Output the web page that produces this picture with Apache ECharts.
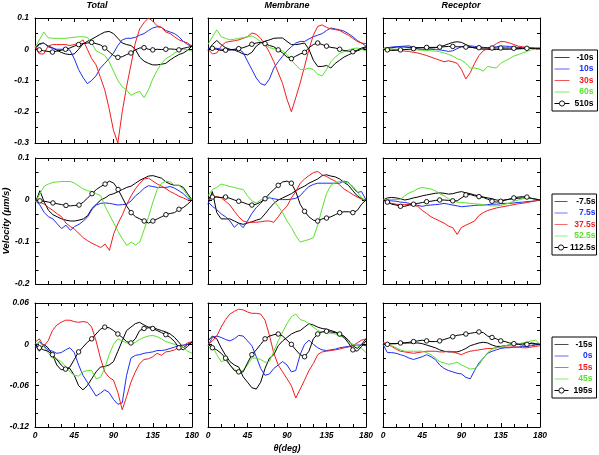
<!DOCTYPE html>
<html><head><meta charset="utf-8">
<script src="https://cdn.jsdelivr.net/npm/echarts@6/dist/echarts.min.js"></script>
<style>html,body{margin:0;padding:0;background:#fff}#c{width:599px;height:455px}</style>
</head><body><div id="c"></div>
<script>
// ---- categories / ticks ----
const theta = [0,5,10,15,20,25,30,35,40,45,50,55,60,65,70,75,80,85,90,95,100,105,110,115,120,125,130,135,140,145,150,155,160,165,170,175,180];
const markerTheta = [5,20,35,50,65,80,95,110,125,135,150,165];
const panelTitles = ['Total','Membrane','Receptor'];
const legendRow1 = ['-10s','10s','30s','60s','510s'];
const legendRow2 = ['-7.5s','7.5s','37.5s','52.5s','112.5s'];
const legendRow3 = ['-15s','0s','15s','45s','195s'];
const yAxisRow1 = [-0.3, 0.1, 0.1];
const yAxisRow2 = [-0.2, 0.1, 0.1];
const yAxisRow3 = [-0.12, 0.06, 0.06];

// ---- row 1 ----
const total1_k = [0.005,0.018,0.02,0.01,0.005,-0.003,-0.01,-0.015,-0.017,-0.015,0.0,0.017,0.025,0.032,0.04,0.048,0.055,0.057,0.05,0.035,0.02,0.015,0.012,0.0,-0.025,-0.038,-0.045,-0.05,-0.05,-0.048,-0.045,-0.034,-0.025,-0.017,-0.012,-0.003,0.01];
const total1_b = [0,0.015,0.02,0.008,0.003,0,0,0,-0.003,-0.03,-0.065,-0.09,-0.11,-0.1,-0.085,-0.06,-0.045,-0.03,-0.012,0.012,0.03,0.035,0.035,0.038,0.045,0.05,0.06,0.068,0.072,0.07,0.06,0.055,0.05,0.04,0.025,0.015,0.01];
const total1_r = [0.01,-0.015,-0.015,0.01,0.015,0.015,0.015,0.015,0.012,0.015,0.02,0.03,0.0,-0.03,-0.05,-0.09,-0.13,-0.19,-0.26,-0.3,-0.2,-0.12,-0.05,0.02,0.065,0.085,0.1,0.09,0.075,0.07,0.055,0.05,0.04,0.03,0.025,0.02,0.01];
const total1_g = [0.005,0.03,0.055,0.037,0.035,0.035,0.035,0.035,0.037,0.038,0.04,0.04,0.038,0.02,-0.005,-0.012,-0.02,-0.04,-0.07,-0.1,-0.12,-0.13,-0.148,-0.14,-0.135,-0.155,-0.13,-0.095,-0.068,-0.045,-0.03,-0.022,-0.012,-0.005,0.0,-0.002,-0.006];
const total1_o = [0,-0.002,-0.005,-0.007,-0.009,-0.006,-0.003,0,0.004,0.01,0.015,0.018,0.02,0.022,0.018,0.014,0.004,-0.008,-0.02,-0.026,-0.024,-0.017,-0.012,-0.002,0.004,0.005,0,-0.002,0,-0.001,0,0.001,0,-0.002,0.003,0.006,0.01];
const mem1_k = [-0.005,0.015,0.028,0.015,0.005,0,-0.003,-0.008,-0.015,-0.018,-0.01,0.01,0.02,0.026,0.03,0.035,0.036,0.036,0.025,0.015,0.015,0.017,0.02,0.0,-0.035,-0.055,-0.055,-0.052,-0.06,-0.045,-0.035,-0.025,-0.018,-0.012,-0.005,0,0.005];
const mem1_b = [0.003,0.004,0.003,0,-0.001,-0.002,-0.002,0,-0.01,-0.038,-0.065,-0.092,-0.11,-0.115,-0.095,-0.06,-0.04,-0.022,-0.005,0.008,0.02,0.025,0.025,0.033,0.04,0.045,0.05,0.06,0.068,0.065,0.062,0.058,0.05,0.04,0.028,0.02,0.01];
const mem1_r = [0,-0.015,-0.012,0.01,0.022,0.025,0.027,0.03,0.035,0.04,0.052,0.048,0.035,0.015,-0.01,-0.04,-0.075,-0.11,-0.16,-0.2,-0.155,-0.108,-0.055,0,0.045,0.073,0.078,0.07,0.065,0.063,0.06,0.052,0.045,0.035,0.025,0.02,0.018];
const mem1_g = [0.015,0.04,0.062,0.04,0.035,0.03,0.032,0.035,0.037,0.04,0.043,0.035,0.024,0.015,0.005,0.002,0,-0.005,-0.017,-0.035,-0.05,-0.065,-0.065,-0.06,-0.065,-0.08,-0.085,-0.065,-0.04,-0.025,-0.013,-0.008,-0.002,0.002,0.004,0,-0.006];
const mem1_o = [0,0.003,0,-0.004,-0.003,-0.002,0,0.002,0.005,0.01,0.016,0.02,0.022,0.018,0.012,0.008,-0.002,-0.012,-0.025,-0.03,-0.022,-0.015,-0.01,0.005,0.015,0.02,0.015,0.01,0.006,0.004,0,-0.004,-0.006,-0.008,-0.003,0.004,0.008];
const rec1_k = [0.002,0.003,0.005,0.007,0.008,0.007,0.006,0.006,0.005,0.005,0.004,0.004,0.005,0.008,0.012,0.017,0.022,0.024,0.022,0.015,0.008,0.004,0.002,0,0,-0.001,-0.001,0,0,0,0.001,0.001,0.002,0.002,0.003,0.003,0.003];
const rec1_b = [0.003,0.005,0.007,0.008,0.009,0.01,0.011,0.006,0,-0.001,0,0,-0.001,-0.002,-0.004,-0.007,-0.005,0.002,0.008,0.01,0.011,0.009,0.007,0.006,0.005,0.006,0.008,0.01,0.01,0.009,0.007,0.006,0.005,0.004,0.004,0.003,0.003];
const rec1_r = [0.002,0.003,0,-0.002,-0.004,-0.006,-0.007,-0.01,-0.012,-0.016,-0.02,-0.025,-0.03,-0.035,-0.04,-0.037,-0.04,-0.045,-0.065,-0.095,-0.075,-0.045,-0.02,-0.005,0.002,0.008,0.018,0.025,0.024,0.02,0.015,0.01,0.008,0.005,0.004,0.002,0];
const rec1_g = [0.002,0.002,0.001,0,0,0,-0.001,-0.002,-0.002,-0.003,-0.004,-0.005,-0.006,-0.008,-0.012,-0.016,-0.022,-0.03,-0.035,-0.045,-0.06,-0.06,-0.063,-0.07,-0.055,-0.058,-0.06,-0.045,-0.037,-0.03,-0.022,-0.017,-0.012,-0.007,-0.002,0,0];
const rec1_o = [0,-0.002,-0.004,-0.003,-0.002,-0.001,0,0.002,0.004,0.005,0.006,0.006,0.006,0.007,0.008,0.009,0.009,0.008,0.008,0.007,0.006,0.005,0.005,0.004,0.004,0.004,0.004,0.004,0.004,0.004,0.003,0.003,0.003,0.003,0.003,0.003,0.003];

// ---- row 2 ----
const total2_k = [-0.005,0.022,-0.005,-0.025,-0.035,-0.04,-0.045,-0.048,-0.05,-0.05,-0.048,-0.045,-0.037,-0.02,-0.01,0,0.005,0.012,0.015,0.02,0.025,0.03,0.033,0.04,0.047,0.052,0.057,0.058,0.055,0.052,0.043,0.038,0.035,0.035,0.03,0.015,0];
const total2_b = [-0.002,-0.012,-0.03,-0.04,-0.045,-0.057,-0.068,-0.06,-0.072,-0.063,-0.058,-0.05,-0.04,-0.022,-0.012,-0.008,-0.007,-0.008,-0.01,-0.012,-0.011,-0.01,-0.002,0.01,0.018,0.028,0.034,0.032,0.03,0.03,0.03,0.032,0.028,0.022,0.015,0.005,0];
const total2_r = [0,-0.005,-0.01,-0.018,-0.025,-0.033,-0.04,-0.055,-0.063,-0.07,-0.08,-0.09,-0.097,-0.103,-0.108,-0.113,-0.105,-0.12,-0.08,-0.055,-0.035,-0.01,0.01,0.027,0.04,0.05,0.052,0.045,0.038,0.033,0.027,0.02,0.015,0.009,0.005,0,0];
const total2_g = [-0.005,0.015,0.033,0.038,0.042,0.043,0.044,0.044,0.044,0.04,0.033,0.026,0.022,0.02,0.015,0.01,-0.015,-0.035,-0.055,-0.075,-0.093,-0.108,-0.1,-0.107,-0.1,-0.07,-0.04,-0.005,0.025,0.04,0.045,0.043,0.035,0.035,0.025,0.01,0];
const total2_o = [0,-0.002,-0.003,-0.005,-0.007,-0.009,-0.011,-0.013,-0.014,-0.013,-0.012,-0.005,0.005,0.015,0.025,0.032,0.038,0.045,0.04,0.025,0.005,-0.015,-0.03,-0.04,-0.045,-0.05,-0.055,-0.05,-0.045,-0.04,-0.035,-0.032,-0.03,-0.022,-0.018,-0.01,0];
const mem2_k = [-0.01,0.02,-0.03,-0.045,-0.045,-0.045,-0.05,-0.055,-0.058,-0.055,-0.052,-0.048,-0.045,-0.033,-0.02,-0.008,0,0.005,0.01,0.015,0.022,0.028,0.033,0.04,0.045,0.05,0.058,0.06,0.057,0.055,0.05,0.042,0.035,0.022,0.01,0.003,0];
const mem2_b = [-0.005,-0.015,-0.023,-0.033,-0.04,-0.05,-0.065,-0.055,-0.066,-0.05,-0.032,-0.018,-0.008,0.003,0.005,0.003,0.001,0.001,0.001,0.002,0.004,0.01,0.022,0.032,0.037,0.04,0.04,0.04,0.04,0.04,0.04,0.045,0.042,0.03,0.018,0.02,0];
const mem2_r = [0,0.005,0.008,0.005,-0.003,-0.012,-0.027,-0.04,-0.05,-0.053,-0.053,-0.053,-0.052,-0.05,-0.05,-0.053,-0.04,-0.025,-0.015,0.005,0.02,0.04,0.05,0.058,0.065,0.068,0.06,0.056,0.05,0.045,0.036,0.026,0.02,0.013,0.007,0.002,0];
const mem2_g = [0.01,0.025,0.03,0.038,0.035,0.032,0.03,0.027,0.025,0.01,-0.002,-0.007,0,0.004,0.007,-0.002,-0.015,-0.03,-0.05,-0.065,-0.085,-0.1,-0.097,-0.094,-0.09,-0.06,-0.02,0.015,0.035,0.042,0.044,0.043,0.04,0.033,0.02,0.005,-0.003];
const mem2_o = [0.005,0.007,0.007,0.006,0.007,0.004,0,-0.003,-0.006,-0.01,-0.012,-0.01,-0.005,0.003,0.015,0.025,0.035,0.043,0.045,0.04,0.02,-0.01,-0.027,-0.04,-0.048,-0.05,-0.045,-0.043,-0.04,-0.035,-0.03,-0.028,-0.028,-0.03,-0.025,-0.01,0];
const rec2_k = [0,0.005,0.006,0.005,0.003,0,0.002,0.005,0.007,0.01,0.012,0.014,0.016,0.017,0.016,0.014,0.015,0.018,0.02,0.017,0.015,0.012,0.01,0.007,0.005,0.003,0,-0.001,0,0.002,0.003,0.004,0.005,0.005,0.004,0.002,0];
const rec2_b = [0,-0.001,-0.002,-0.003,-0.005,-0.006,-0.008,-0.01,-0.013,-0.015,-0.013,-0.012,-0.011,-0.01,-0.008,-0.01,-0.012,-0.014,-0.016,-0.015,-0.014,-0.013,-0.012,-0.012,-0.011,-0.01,-0.01,-0.009,-0.008,-0.008,-0.007,-0.006,-0.005,-0.004,-0.003,-0.002,0];
const rec2_r = [0,-0.004,-0.008,-0.01,-0.011,-0.011,-0.011,-0.013,-0.015,-0.025,-0.032,-0.04,-0.045,-0.05,-0.055,-0.062,-0.066,-0.082,-0.065,-0.06,-0.055,-0.05,-0.037,-0.03,-0.025,-0.022,-0.019,-0.017,-0.015,-0.013,-0.011,-0.009,-0.008,-0.006,-0.004,-0.002,0];
const rec2_g = [0,0.001,0.001,0.001,0.002,0.01,0.017,0.021,0.027,0.03,0.028,0.026,0.022,0.015,0.01,0.003,-0.002,-0.005,-0.006,-0.007,-0.008,-0.009,-0.01,-0.011,-0.013,-0.014,-0.014,-0.013,-0.01,-0.007,-0.003,0,0.003,0.004,0.004,0.002,0];
const rec2_o = [0,-0.005,-0.01,-0.012,-0.015,-0.015,-0.012,-0.01,-0.008,-0.006,-0.004,-0.003,-0.001,0,0,-0.001,-0.002,-0.002,0.005,0.012,0.013,0.01,0.008,0.006,0.002,-0.003,-0.005,-0.003,0,0.002,0.005,0.007,0.008,0.007,0.004,0.002,0];

// ---- row 3 ----
const total3_k = [0,-0.01,0,-0.005,-0.015,-0.03,-0.037,-0.036,-0.035,-0.045,-0.06,-0.066,-0.06,-0.05,-0.04,-0.033,-0.032,-0.03,-0.025,-0.01,0.005,0.02,0.025,0.03,0.032,0.028,0.025,0.025,0.022,0.02,0.018,0.015,0.01,0.003,-0.005,0,0.003];
const total3_b = [-0.005,0.004,-0.002,-0.008,-0.01,-0.013,-0.012,-0.008,-0.005,-0.012,-0.03,-0.045,-0.055,-0.065,-0.075,-0.071,-0.066,-0.07,-0.08,-0.087,-0.085,-0.045,-0.02,-0.016,-0.015,-0.013,-0.012,-0.011,-0.009,-0.009,-0.008,-0.006,-0.004,-0.002,-0.001,0,0.003];
const total3_r = [0.003,0.008,-0.003,0.005,0.02,0.028,0.032,0.035,0.035,0.033,0.032,0.033,0.032,0.025,0.005,-0.02,-0.04,-0.048,-0.052,-0.07,-0.095,-0.076,-0.055,-0.04,-0.028,-0.022,-0.021,-0.018,-0.013,-0.016,-0.011,-0.01,-0.008,-0.004,-0.002,0.002,0.004];
const total3_g = [0,0.003,-0.003,-0.012,-0.02,-0.022,-0.025,-0.032,-0.04,-0.045,-0.046,-0.04,-0.038,-0.038,-0.05,-0.048,-0.035,-0.015,0,0.008,0.005,0.002,0,0.003,0.007,0.01,0.012,0.013,0.011,0.008,0.004,0.002,0,-0.002,-0.004,-0.01,-0.013];
const total3_o = [0,-0.005,-0.008,-0.01,-0.015,-0.022,-0.03,-0.036,-0.033,-0.022,-0.011,-0.004,0.003,0.008,0.015,0.022,0.025,0.024,0.02,0.015,0.01,0.004,0.002,0.008,0.02,0.023,0.024,0.023,0.02,0.017,0.014,0.01,0.004,-0.005,-0.008,-0.003,0.003];
const mem3_k = [0.005,0.012,0.008,-0.005,-0.016,-0.025,-0.03,-0.033,-0.047,-0.055,-0.063,-0.065,-0.055,-0.035,-0.02,-0.015,-0.002,0.005,0.01,0.015,0.018,0.02,0.025,0.03,0.028,0.025,0.023,0.022,0.02,0.018,0.015,0.012,0.006,-0.002,-0.006,0,0.008];
const mem3_b = [-0.002,0.01,0.012,0.01,0.007,0.005,0.008,0.013,0.012,0.005,-0.002,-0.018,-0.035,-0.045,-0.043,-0.035,-0.03,-0.025,-0.03,-0.04,-0.038,-0.015,0,0.006,0,-0.005,-0.008,-0.009,-0.008,-0.007,-0.005,-0.004,-0.003,-0.002,-0.001,-0.001,-0.002];
const mem3_r = [0,0.005,0.012,0.025,0.036,0.044,0.048,0.051,0.05,0.047,0.045,0.045,0.044,0.035,0.013,-0.013,-0.03,-0.04,-0.05,-0.06,-0.078,-0.065,-0.052,-0.038,-0.028,-0.015,-0.011,-0.01,-0.009,-0.008,-0.007,-0.005,-0.004,-0.002,0.002,0.006,0.008];
const mem3_g = [-0.002,-0.002,-0.015,-0.025,-0.023,-0.03,-0.036,-0.04,-0.038,-0.03,-0.02,-0.02,-0.022,-0.026,-0.025,-0.01,0.005,0.018,0.03,0.04,0.044,0.036,0.034,0.03,0.025,0.02,0.018,0.017,0.016,0.015,0.012,0.01,0.004,0,-0.002,-0.006,-0.012];
const mem3_o = [0,-0.005,-0.008,-0.013,-0.02,-0.03,-0.038,-0.04,-0.04,-0.027,-0.015,-0.008,0,0.008,0.012,0.014,0.015,0.012,0.006,0,-0.008,-0.015,-0.018,-0.01,0.008,0.015,0.018,0.019,0.018,0.017,0.015,0.01,0.002,-0.008,-0.01,-0.003,0.005];
const rec3_k = [0,0.001,0.001,0.001,0.002,0.002,0.002,0.002,0.002,0.001,-0.001,-0.003,-0.005,-0.008,-0.01,-0.011,-0.011,-0.011,-0.009,-0.006,-0.002,0,0.002,0.003,0.002,-0.001,-0.003,-0.003,-0.002,-0.001,0,0.001,0.001,0.001,0.001,0,0];
const rec3_b = [0,-0.012,-0.012,-0.013,-0.015,-0.017,-0.02,-0.022,-0.02,-0.018,-0.015,-0.018,-0.022,-0.03,-0.035,-0.038,-0.04,-0.042,-0.043,-0.048,-0.05,-0.038,-0.027,-0.02,-0.013,-0.01,-0.008,-0.006,-0.005,-0.005,-0.004,-0.004,-0.003,-0.003,-0.002,-0.001,0];
const rec3_r = [0.003,0,-0.003,-0.007,-0.01,-0.011,-0.012,-0.013,-0.012,-0.011,-0.01,-0.01,-0.01,-0.011,-0.011,-0.01,-0.011,-0.013,-0.015,-0.012,-0.01,-0.009,-0.008,-0.007,-0.006,-0.006,-0.005,-0.004,-0.004,-0.004,-0.004,-0.004,-0.005,-0.005,-0.004,-0.003,-0.002];
const rec3_g = [0,0,-0.002,-0.005,-0.008,-0.01,-0.01,-0.01,-0.01,-0.01,-0.012,-0.015,-0.02,-0.025,-0.027,-0.029,-0.028,-0.026,-0.03,-0.033,-0.036,-0.035,-0.03,-0.02,-0.012,-0.007,-0.005,-0.004,-0.002,-0.001,0,0.001,0.002,0.003,0.005,0.006,0];
const rec3_o = [0,0,0.001,0.001,0.002,0.002,0.003,0.004,0.005,0.006,0.005,0.004,0.004,0.005,0.007,0.009,0.011,0.013,0.014,0.015,0.016,0.017,0.018,0.017,0.012,0.01,0.008,0.005,0.004,0.002,0.001,0,-0.001,0,0.002,0.001,0];

// ---- assembly ----
const colors = ['#000000','#1c2ef2','#f21c1c','#58e22c','#000000'];
const rowDefs = [
  {names: legendRow1, y: yAxisRow1, minor: 2, panels: [[total1_k,total1_b,total1_r,total1_g,total1_o],[mem1_k,mem1_b,mem1_r,mem1_g,mem1_o],[rec1_k,rec1_b,rec1_r,rec1_g,rec1_o]]},
  {names: legendRow2, y: yAxisRow2, minor: 3, panels: [[total2_k,total2_b,total2_r,total2_g,total2_o],[mem2_k,mem2_b,mem2_r,mem2_g,mem2_o],[rec2_k,rec2_b,rec2_r,rec2_g,rec2_o]]},
  {names: legendRow3, y: yAxisRow3, minor: 3, panels: [[total3_k,total3_b,total3_r,total3_g,total3_o],[mem3_k,mem3_b,mem3_r,mem3_g,mem3_o],[rec3_k,rec3_b,rec3_r,rec3_g,rec3_o]]}
];

const FONT = 'Liberation Sans, Arial, Helvetica, sans-serif';
const colLeft = [35, 208, 383];
const colWidth = [157, 158, 157];
const rowTop = [18, 158, 303];
const rowHeight = [125, 126, 124];
const legendTop = [50, 194, 337];
const legendIconW = [15, 13, 14];
const legendTextW = [19, 23, 19];
const legendPadR = [4, 1, 4];
const titleX = [97, 287, 461];
const LINE_ICON = 'path://M0,0H40V2H0Z';

const grids = [], xAxes = [], yAxes = [], series = [], legends = [];
const lblStyle = {fontSize: 8.5, fontWeight: 'bold', fontStyle: 'italic', fontFamily: FONT, color: '#000'};
const axisLine = {show: true, onZero: false, lineStyle: {color: '#000', width: 1}};
const tick = {show: true, inside: true, length: 4, lineStyle: {color: '#000', width: 1}};

rowDefs.forEach((row, r) => {
  row.panels.forEach((panel, c) => {
    const g = r * 3 + c;
    grids.push({left: colLeft[c], top: rowTop[r], width: colWidth[c], height: rowHeight[r], containLabel: false});
    const xBase = {type: 'value', gridIndex: g, min: 0, max: 180, interval: 45,
      axisLine, axisTick: tick, splitLine: {show: false},
      minorTick: {show: true, splitNumber: 3, length: 3, lineStyle: {color: '#000', width: 1}}, minorSplitLine: {show: false}};
    const xb = Object.assign({}, xBase, {position: 'bottom',
      axisLabel: Object.assign({show: r === 2, margin: 4}, lblStyle)});
    if (r === 2 && c === 1) {
      xb.name = 'θ(deg)'; xb.nameLocation = 'middle'; xb.nameGap = 17;
      xb.nameTextStyle = {fontSize: 9, fontWeight: 'bold', fontStyle: 'italic', fontFamily: FONT, color: '#000'};
    }
    xAxes[g] = xb;
    xAxes[9 + g] = Object.assign({}, xBase, {position: 'top', axisLabel: {show: false}});
    const yBase = {type: 'value', gridIndex: g, min: row.y[0], max: row.y[1], interval: row.y[2],
      axisLine, axisTick: tick, splitLine: {show: false},
      minorTick: {show: true, splitNumber: row.minor, length: 3, lineStyle: {color: '#000', width: 1}}, minorSplitLine: {show: false}};
    const yl = Object.assign({}, yBase, {position: 'left',
      axisLabel: Object.assign({show: c === 0, margin: 6}, lblStyle)});
    if (r === 1 && c === 0) {
      yl.name = 'Velocity (µm/s)'; yl.nameLocation = 'middle'; yl.nameGap = 24; yl.nameRotate = 90;
      yl.nameTextStyle = {fontSize: 9.5, fontWeight: 'bold', fontStyle: 'italic', fontFamily: FONT, color: '#000'};
    }
    yAxes[g] = yl;
    yAxes[9 + g] = Object.assign({}, yBase, {position: 'right', axisLabel: {show: false}});

    panel.forEach((vals, s) => {
      const isCircle = s === 4;
      series.push({
        type: 'line', name: row.names[s], xAxisIndex: g, yAxisIndex: g,
        data: theta.map((t, i) => isCircle
          ? {value: [t, vals[i]], symbol: markerTheta.indexOf(t) >= 0 ? 'circle' : 'none'}
          : [t, vals[i]]),
        symbol: isCircle ? 'circle' : 'none', symbolSize: 4.5, showSymbol: isCircle,
        lineStyle: {color: colors[s], width: 1},
        itemStyle: isCircle ? {color: '#ffffff', borderColor: '#000', borderWidth: 0.9} : {color: colors[s]},
        z: isCircle ? 3 : 2, silent: true, animation: false, clip: true
      });
    });
  });
  legends.push({
    show: true, orient: 'vertical', left: 552, top: legendTop[r],
    data: row.names.map((n, i) => i === 4
      ? {name: n, textStyle: {color: colors[i]}, lineStyle: {width: 1, color: '#000'},
         itemStyle: {color: '#fff', borderColor: '#000', borderWidth: 0.9}}
      : {name: n, icon: LINE_ICON, textStyle: {color: colors[i]}}),
    itemWidth: legendIconW[r], itemHeight: 6.5, itemGap: 2.5, padding: [3, legendPadR[r], 3, 2],
    borderColor: '#000', borderWidth: 1, selectedMode: false,
    formatter: '{a|{name}}',
    textStyle: {fontSize: 8.5, fontWeight: 'bold', fontFamily: FONT,
      rich: {a: {width: legendTextW[r], align: 'right', lineHeight: 9, fontSize: 8.5, fontWeight: 'bold', fontFamily: FONT}}}
  });
});

const graphics = panelTitles.map((t, c) => ({
  type: 'text', x: titleX[c], y: 6,
  style: {text: t, align: 'center', verticalAlign: 'middle', fill: '#000',
    font: 'italic bold 9px ' + FONT}
}));

const chart = echarts.init(document.getElementById('c'), null, {renderer: 'canvas'});
chart.setOption({
  animation: false, backgroundColor: '#ffffff',
  grid: grids, xAxis: xAxes, yAxis: yAxes, series, legend: legends, graphic: graphics
});
</script></body></html>
